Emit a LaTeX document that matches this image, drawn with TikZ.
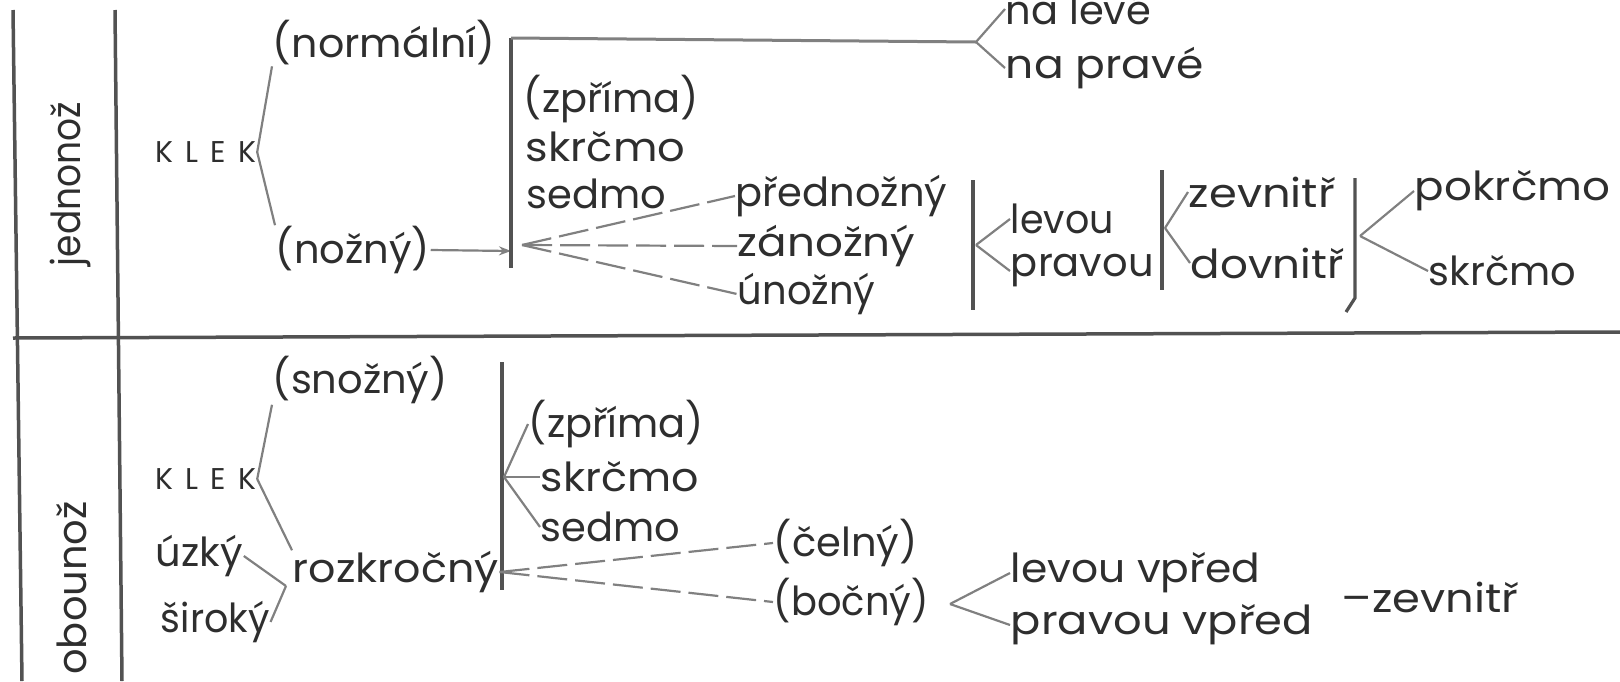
\documentclass[tikz,border=0pt]{standalone}
\usepackage{fontspec}
\setmainfont{Poppins}
\usetikzlibrary{arrows.meta}

\definecolor{inkgray}{gray}{0.18}
\definecolor{wiregray}{gray}{0.5}
\definecolor{barsgray}{gray}{0.32}
\newcommand{\klekword}{K\hspace{12pt}L\hspace{12pt}E\hspace{12pt}K}
\newcommand{\hstretch}[2]{\scalebox{#1}[1]{#2}}

\tikzset{
  lbl/.style={anchor=west, inner sep=0.75pt, text=inkgray, font=\fontsize{40}{44}\selectfont},
  klek/.style={anchor=west, inner sep=0.75pt, text=inkgray, font=\fontsize{30}{34}\selectfont},
  side/.style={inner sep=0.75pt, text=inkgray, rotate=90, font=\fontsize{40}{44}\selectfont},
  wire/.style={draw=wiregray, line width=2.2pt},
  dashwire/.style={wire, dash pattern={on 30pt off 8pt}},
  bar/.style={draw=barsgray, line width=3.2pt},
  frameline/.style={draw=barsgray, line width=3.5pt}
}

\begin{document}
\begin{tikzpicture}[x=1pt,y=1pt,yscale=-1,xscale=1]
\useasboundingbox (0,0) rectangle (1620,681);

%Straight Lines (frame)
\draw [frameline] (13,10) -- (22,681) ;
\draw [frameline] (115,10) -- (122,681) ;
\draw [frameline] (13,338) -- (1620,332) ;

% Text Node
\node (jedn) [side] at (70,184) {\hstretch{0.9}{jednonož}};
% Text Node
\node (obou) [side] at (72,588) {obounož};

% ---- upper half ----
% Text Node
\node (klekA) [klek] at (155,152) {\klekword};
% Text Node
\node (normal) [lbl] at (272,43) {\hstretch{1.03}{(normální)}};
% Text Node
\node (noznyA) [lbl] at (275,250) {(nožný)};
% Text Node
\node (nalev) [lbl] at (1005,9) {na levé};
% Text Node
\node (naprav) [lbl] at (1005,68) {\hstretch{1.1}{na pravé}};
% Text Node
\node (zprimaA) [lbl] at (523,99) {(zpříma)};
% Text Node
\node (skrcmoA) [lbl] at (525,147) {\hstretch{1.08}{skrčmo}};
% Text Node
\node (sedmoA) [lbl] at (526,194) {sedmo};
% Text Node
\node (predn) [lbl] at (735,196) {přednožný};
% Text Node
\node (zanoz) [lbl] at (737,246) {\hstretch{1.09}{zánožný}};
% Text Node
\node (unoz) [lbl] at (737,294) {\hstretch{0.96}{únožný}};
% Text Node
\node (levou) [lbl] at (1010,219) {\hstretch{0.95}{levou}};
% Text Node
\node (pravou) [lbl] at (1010,271) {pravou};
% Text Node
\node (zevnA) [lbl] at (1188,192) {\hstretch{1.12}{zevnitř}};
% Text Node
\node (dovnA) [lbl] at (1190,263) {\hstretch{1.09}{dovnitř}};
% Text Node
\node (pokrc) [lbl] at (1414,191) {\hstretch{1.09}{pokrčmo}};
% Text Node
\node (skrcmoB) [lbl] at (1428,271) {skrčmo};

\coordinate (brAtop) at (511,38);
\coordinate (brAbot) at (511,268);
\coordinate (brAin) at (511,251);
\coordinate (naV) at (976,42);
\coordinate (fanA) at (522,245);
\coordinate (f1top) at (973,180);
\coordinate (f1bot) at (973,310);
\coordinate (f1) at (976,245);
\coordinate (f2top) at (1162,170);
\coordinate (f2bot) at (1162,290);
\coordinate (f2) at (1165,228);
\coordinate (f3top) at (1355,178);
\coordinate (f3bot) at (1346,312);
\coordinate (f3) at (1360,236);

%Straight Lines
\draw [wire] (klekA.east) -- (normal.south west) ;
\draw [wire] (klekA.east) -- (noznyA.north west) ;
\draw [wire, -{Stealth[length=12pt,width=9pt]}] (noznyA.east) -- (brAin) ;
\draw [bar] (brAtop) -- (brAbot) ;
\draw [wire, line width=3pt] (brAtop) -- (naV) ;
\draw [wire] (naV) -- (nalev.west) ;
\draw [wire] (naV) -- (naprav.west) ;
%Dashed Lines
\draw [dashwire] (fanA) -- (predn.west) ;
\draw [dashwire] (fanA) -- (zanoz.west) ;
\draw [dashwire] (fanA) -- (unoz.west) ;
%Brackets
\draw [bar] (f1top) -- (f1bot) ;
\draw [wire] (f1) -- (levou.west) ;
\draw [wire] (f1) -- (pravou.west) ;
\draw [bar] (f2top) -- (f2bot) ;
\draw [wire] (f2) -- (zevnA.west) ;
\draw [wire] (f2) -- (dovnA.west) ;
\draw [bar] (f3top) -- (1355,298) -- (f3bot) ;
\draw [wire] (f3) -- (pokrc.west) ;
\draw [wire] (f3) -- (skrcmoB.west) ;

% ---- lower half ----
% Text Node
\node (snoz) [lbl] at (272,380) {(snožný)};
% Text Node
\node (klekB) [klek] at (155,479) {\klekword};
% Text Node
\node (uzky) [lbl] at (155,556) {úzký};
% Text Node
\node (siroky) [lbl] at (160,622) {\hstretch{0.95}{široký}};
% Text Node
\node (rozk) [lbl] at (292,572) {\hstretch{1.07}{rozkročný}};
% Text Node
\node (zprimaB) [lbl] at (528,424) {(zpříma)};
% Text Node
\node (skrcmoC) [lbl] at (540,477) {\hstretch{1.07}{skrčmo}};
% Text Node
\node (sedmoB) [lbl] at (540,527) {sedmo};
% Text Node
\node (celny) [lbl] at (773,543) {(čelný)};
% Text Node
\node (bocny) [lbl] at (773,602) {\hstretch{0.96}{(bočný)}};
% Text Node
\node (levvpr) [lbl] at (1010,573) {\hstretch{1.06}{levou vpřed}};
% Text Node
\node (pravvpr) [lbl] at (1010,625) {\hstretch{1.12}{pravou vpřed}};
% Text Node
\node (zevnB) [lbl] at (1341,597) {\hstretch{1.12}{–zevnitř}};

\coordinate (rzV) at (286,586);
\coordinate (brBtop) at (502,362);
\coordinate (brBbot) at (502,590);
\coordinate (f4) at (504,477);
\coordinate (f5) at (950,604);

%Straight Lines
\draw [wire] (klekB.east) -- (snoz.south west) ;
\draw [wire] (klekB.east) -- (rozk.north west) ;
\draw [wire] (uzky.east) -- (rzV) ;
\draw [wire] (siroky.east) -- (rzV) ;
\draw [bar] (brBtop) -- (brBbot) ;
\draw [wire] (f4) -- (zprimaB.west) ;
\draw [wire] (f4) -- (skrcmoC.west) ;
\draw [wire] (f4) -- (sedmoB.west) ;
%Dashed Lines
\draw [dashwire] (rozk.east) -- (celny.west) ;
\draw [dashwire] (rozk.east) -- (bocny.west) ;
%Straight Lines
\draw [wire] (f5) -- (levvpr.west) ;
\draw [wire] (f5) -- (pravvpr.west) ;

\end{tikzpicture}
\end{document}
